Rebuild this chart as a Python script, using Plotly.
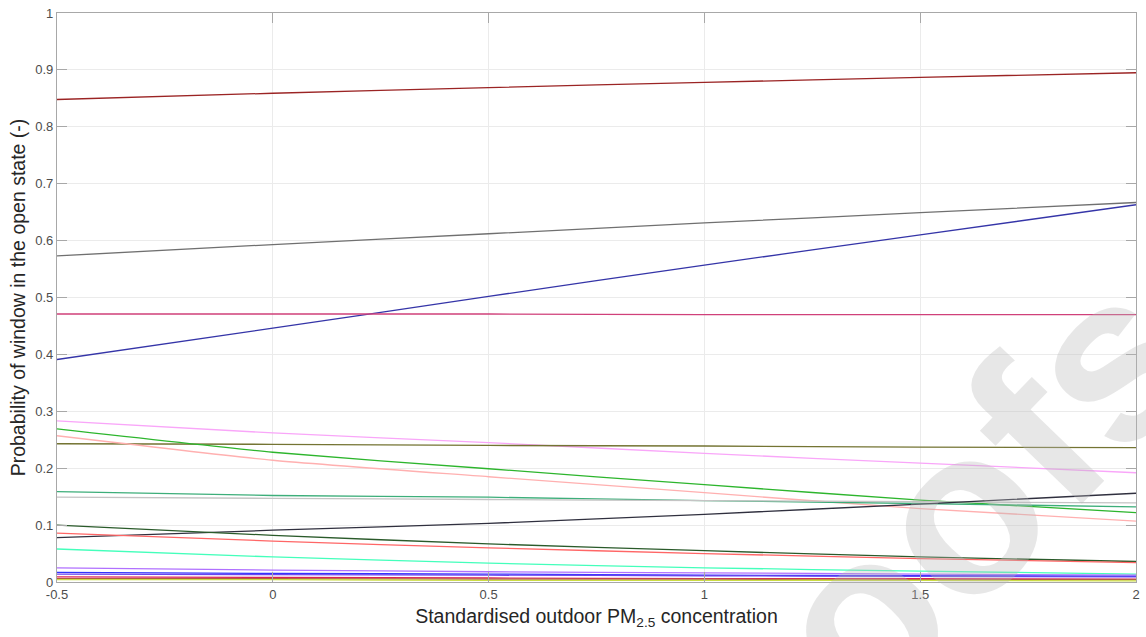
import plotly.graph_objects as go

# Standardised outdoor PM2.5 concentration (evaluation points)
pm25 = [-0.5, 0.0, 0.5, 1.0, 1.5, 2.0]

# Predicted probability of the window being open, one curve per window
p_w01 = [0.848, 0.859, 0.869, 0.878, 0.887, 0.895]
p_w02 = [0.573, 0.593, 0.612, 0.631, 0.649, 0.667]
p_w03 = [0.391, 0.446, 0.502, 0.557, 0.610, 0.663]
p_w04 = [0.471, 0.471, 0.471, 0.470, 0.470, 0.470]
p_w05 = [0.283, 0.262, 0.245, 0.226, 0.209, 0.192]
p_w06 = [0.243, 0.242, 0.240, 0.239, 0.237, 0.236]
p_w07 = [0.269, 0.228, 0.199, 0.171, 0.144, 0.122]
p_w08 = [0.257, 0.214, 0.185, 0.157, 0.129, 0.107]
p_w09 = [0.159, 0.152, 0.149, 0.143, 0.138, 0.132]
p_w10 = [0.149, 0.147, 0.145, 0.143, 0.141, 0.139]
p_w11 = [0.078, 0.091, 0.103, 0.119, 0.137, 0.156]
p_w12 = [0.100, 0.082, 0.067, 0.055, 0.044, 0.036]
p_w13 = [0.086, 0.072, 0.060, 0.050, 0.041, 0.034]
p_w14 = [0.058, 0.044, 0.033, 0.025, 0.019, 0.014]
p_w15 = [0.025, 0.021, 0.018, 0.016, 0.014, 0.012]
p_w16 = [0.017, 0.015, 0.014, 0.012, 0.011, 0.010]
p_w17 = [0.014, 0.013, 0.012, 0.011, 0.010, 0.009]
p_w18 = [0.009, 0.008, 0.007, 0.006, 0.006, 0.005]
p_w19 = [0.006, 0.006, 0.005, 0.005, 0.004, 0.004]
p_w20 = [0.004, 0.004, 0.003, 0.003, 0.003, 0.002]

series = [p_w01, p_w02, p_w03, p_w04, p_w05, p_w06, p_w07, p_w08, p_w09, p_w10,
          p_w11, p_w12, p_w13, p_w14, p_w15, p_w16, p_w17, p_w18, p_w19, p_w20]

colors = ["#9B2424", "#707070", "#3535A8", "#D0407A", "#F9A6F9", "#747433",
          "#2DB52D", "#FFB0B0", "#3DAE7A", "#C4C4C4", "#30303F", "#2A5A2A",
          "#FF6666", "#44FFBB", "#B070FF", "#3333FF", "#6A44F0", "#DD2255",
          "#B06040", "#CCDD44"]

x_ticks = [-0.5, 0, 0.5, 1, 1.5, 2]
x_ticklabels = ["-0.5", "0", "0.5", "1", "1.5", "2"]
y_ticks = [0, 0.1, 0.2, 0.3, 0.4, 0.5, 0.6, 0.7, 0.8, 0.9, 1]
y_ticklabels = ["0", "0.1", "0.2", "0.3", "0.4", "0.5", "0.6", "0.7", "0.8", "0.9", "1"]

fig = go.Figure()
for vals, col in zip(series, colors):
    fig.add_trace(go.Scatter(
        x=pm25, y=vals, mode="lines",
        line=dict(color=col, width=1.3, shape="spline", smoothing=0.6),
        showlegend=False, hoverinfo="skip",
    ))

# Draft watermark across the lower right corner
fig.add_annotation(
    text="<b>Proofs</b>", xref="paper", yref="paper", x=0.776, y=0.0035,
    xanchor="center", yanchor="middle",
    showarrow=False, textangle=-46,
    font=dict(family="Liberation Sans", size=235, color="rgba(185,185,185,0.34)"),
)

axis_common = dict(
    showline=True, linecolor="#A8A8A8", linewidth=1.3, mirror="ticks",
    ticks="inside", ticklen=10, tickcolor="#A8A8A8", tickwidth=1,
    showgrid=True, gridcolor="#EBEBEB", gridwidth=1, zeroline=False,
    tickfont=dict(family="Liberation Sans", size=13, color="#4D4D4D"),
)

fig.update_xaxes(
    range=[-0.5, 2], tickvals=x_ticks, ticktext=x_ticklabels,
    title=dict(text="Standardised outdoor PM<sub>2.5</sub> concentration",
               font=dict(family="Liberation Sans", size=19.5, color="#262626"),
               standoff=8),
    **axis_common,
)
fig.update_yaxes(
    range=[0, 1], tickvals=y_ticks, ticktext=y_ticklabels,
    title=dict(text="Probability of window in the open state (-)",
               font=dict(family="Liberation Sans", size=19.5, color="#262626"),
               standoff=4),
    **axis_common,
)

fig.update_layout(
    width=1146, height=637,
    margin=dict(l=57, r=6, t=12, b=55),
    paper_bgcolor="white", plot_bgcolor="white",
)

fig.write_html("out.html")
